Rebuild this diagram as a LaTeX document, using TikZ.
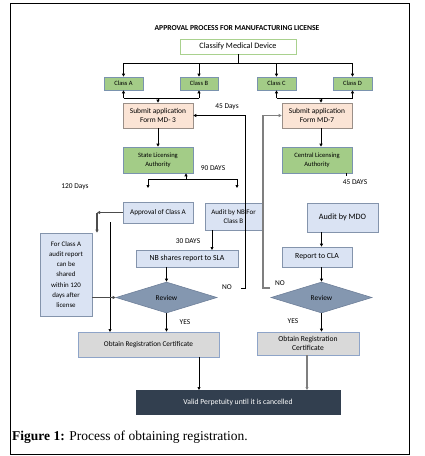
\documentclass[tikz,border=0pt]{standalone}
\usepackage{fontspec}
\setmainfont{Carlito}
\newfontfamily\capfont{Liberation Serif}
\usetikzlibrary{shapes.geometric,arrows.meta}
\definecolor{clsfill}{HTML}{A3CC87}
\definecolor{clsdraw}{HTML}{7A93AE}
\definecolor{subfill}{HTML}{FBE4D5}
\definecolor{subdraw}{HTML}{9A8F88}
\definecolor{bluefill}{HTML}{DAE3F3}
\definecolor{bluedraw}{HTML}{8494AC}
\definecolor{revfill}{HTML}{8497B0}
\definecolor{revdraw}{HTML}{6E7F99}
\definecolor{obtfill}{HTML}{D9D9D9}
\definecolor{obtdraw}{HTML}{8EA4C8}
\definecolor{navy}{HTML}{323F4F}
\definecolor{classifydraw}{HTML}{A9D18E}
\definecolor{conngray}{HTML}{7F7F7F}
\tikzset{
  base/.style={draw, line width=0.6pt, inner sep=1pt, align=center, font=\fontsize{7.6}{9}\selectfont},
  clsbox/.style={base, fill=clsfill, draw=clsdraw, font=\fontsize{6.5}{7}\selectfont},
  authbox/.style={base, fill=clsfill, draw=clsdraw, font=\fontsize{6.6}{8.6}\selectfont},
  subbox/.style={base, fill=subfill, draw=subdraw, font=\fontsize{7.4}{9}\selectfont},
  bluebox/.style={base, fill=bluefill, draw=bluedraw},
  revbox/.style={base, diamond, aspect=3, fill=revfill, draw=revdraw, inner sep=0pt, font=\fontsize{7.4}{8}\selectfont},
  obtbox/.style={base, fill=obtfill, draw=obtdraw},
  validbox/.style={base, fill=navy, draw=navy, text=white},
  lbl/.style={font=\fontsize{7.4}{8}\selectfont, inner sep=0pt},
  conn/.style={line width=0.9pt, -{Triangle[length=3pt,width=3pt]}},
  plain/.style={line width=0.9pt},
  grayconn/.style={line width=1.1pt, draw=conngray, -{Triangle[length=3pt,width=3pt]}},
}
\begin{document}
\begin{tikzpicture}[x=1pt,y=-1pt]
\useasboundingbox (0,0) rectangle (424,456);
\draw[line width=0.8pt] (10,3) rectangle (409,454);
\node[font=\bfseries\fontsize{7.6}{9}\selectfont] (title) at (237,28) {APPROVAL PROCESS FOR MANUFACTURING LICENSE};
% nodes
\node[base, draw=classifydraw, fill=white, minimum width=116pt, minimum height=15pt, font=\fontsize{8.2}{9}\selectfont] (classify) at (238,46.5) {Classify Medical Device};
\node[clsbox, minimum width=39pt, minimum height=13pt] (ca) at (123.5,83.5) {Class A};
\node[clsbox, minimum width=38pt, minimum height=13pt] (cb) at (199,83.5) {Class B};
\node[clsbox, minimum width=39pt, minimum height=13pt] (cc) at (276.5,83.5) {Class C};
\node[clsbox, minimum width=39pt, minimum height=13pt] (cd) at (352.5,83.5) {Class D};
\node[subbox, minimum width=70pt, minimum height=25pt] (sub3) at (158,115.5) {Submit application\\Form MD- 3};
\node[subbox, minimum width=70pt, minimum height=25pt] (sub7) at (317,115.5) {Submit application\\Form MD-7};
\node[authbox, minimum width=70pt, minimum height=26pt] (sla) at (158,160) {State Licensing\\Authority};
\node[authbox, minimum width=70pt, minimum height=26pt] (cla) at (317,160) {Central Licensing\\Authority};
\node[bluebox, minimum width=70pt, minimum height=21pt, font=\fontsize{7.2}{8}\selectfont] (appa) at (158,212.5) {Approval of Class A};
\node[bluebox, minimum width=57pt, minimum height=27pt, font=\fontsize{7}{9}\selectfont] (auditnb) at (233.5,216.5) {Audit by NB For\\Class B};
\node[bluebox, minimum width=102pt, minimum height=17pt, font=\fontsize{7.8}{9}\selectfont] (nbshare) at (187,258.5) {NB shares report to SLA};
\node[bluebox, minimum width=52pt, minimum height=83pt, font=\fontsize{6.9}{10.2}\selectfont] (fora) at (66,274.5) {For Class A\\audit report\\can be\\shared\\within 120\\days after\\license};
\node[revbox, minimum width=101pt, minimum height=31pt] (rev1) at (166.5,297.5) {Review};
\node[obtbox, minimum width=141pt, minimum height=25pt, font=\fontsize{7.3}{8}\selectfont] (obt1) at (148.5,344.5) {Obtain Registration Certificate};
\node[bluebox, minimum width=71pt, minimum height=29pt, font=\fontsize{8.2}{9}\selectfont] (mdo) at (342.5,217.5) {Audit by MDO};
\node[bluebox, minimum width=70pt, minimum height=20pt, font=\fontsize{7.8}{9}\selectfont] (rcla) at (317,257) {Report to CLA};
\node[revbox, minimum width=101pt, minimum height=31pt] (rev2) at (321.5,297.5) {Review};
\node[obtbox, minimum width=102pt, minimum height=23pt, font=\fontsize{7.6}{9.4}\selectfont] (obt2) at (308,343.5) {Obtain Registration\\Certificate};
\node[validbox, minimum width=204pt, minimum height=24pt, font=\fontsize{7.7}{8}\selectfont] (valid) at (238,402) {Valid Perpetuity until it is cancelled};
% labels
\node[lbl] (l45a) at (227,107) {45 Days};
\node[lbl] (l90) at (213,168) {90 DAYS};
\node[lbl] (l120) at (75,187) {120 Days};
\node[lbl] (l45b) at (355,182) {45 DAYS};
\node[lbl] (l30) at (188,241) {30 DAYS};
\node[lbl] (lno1) at (227,287) {NO};
\node[lbl] (lno2) at (280,283) {NO};
\node[lbl] (lyes1) at (185,322) {YES};
\node[lbl] (lyes2) at (293,321) {YES};
% coordinates
\coordinate (top) at (238,63);
\coordinate (jab) at (158,98);
\coordinate (jcd) at (321,98);
% classify fan-out
\draw[plain] (classify.south) -- (top);
\draw[plain] (ca.north |- top) -- (cd.north |- top);
\foreach \c in {ca,cb,cc,cd} \draw[conn] (\c.north |- top) -- (\c.north);
% class to submit
\draw[conn] (ca.south |- jab) -- (ca.south);
\draw[conn] (cb.south |- jab) -- (cb.south);
\draw[plain] (ca.south |- jab) -- (cb.south |- jab);
\draw[conn] (jab) -- (sub3.north);
\draw[conn] (cc.south |- jcd) -- (cc.south);
\draw[conn] (cd.south |- jcd) -- (cd.south);
\draw[plain] (cc.south |- jcd) -- (cd.south |- jcd);
\draw[conn] (jcd) -- (jcd |- sub7.north);
% submit to authority
\draw[conn] (sub3.south) -- (sla.north);
\draw[conn] ([xshift=4pt]sub7.south) -- ([xshift=4pt]cla.north);
% SLA split
\coordinate (sj) at (186,179);
\coordinate (sl) at (148,179);
\coordinate (sr) at (237,179);
\draw[conn] (sj) -- (sj |- sla.south);
\draw[plain] (sl) -- (sr);
\draw[conn] (sl) -- (148,188);
\draw[conn] (sr) -- (237,188);
% CLA small tick
\draw[line width=0.6pt] (346,173) -- (346,176);
% approval of class A to note box
\coordinate (ac) at (97,212.5);
\draw[grayconn, draw=black!70] (appa.west) -- (ac);
\draw[grayconn, draw=black!70] (ac) -- (ac |- fora.north);
\draw[line width=0.7pt, -{Triangle[length=3pt,width=3pt]}] (110,222) -- (110,332);
\draw[grayconn, draw=black!70] (fora.east |- rev1.west) -- (rev1.west);
% audit NB chain
\draw[conn] (212,230) -- (212,250);
\draw[conn] (rev1.north |- nbshare.south) -- (rev1.north);
\draw[conn] (rev1.south) -- (rev1.south |- obt1.north);
% NO loops
\draw[line width=0.9pt, -{Triangle[length=3pt,width=3pt]}] (241,288) -- (245,288) -- (245,115.5) -- (sub3.east);
\draw[grayconn] (270,288) -- (263,288) -- (263,115.5) -- (sub7.west);
% right chain
\draw[conn] (rev2.north |- mdo.south) -- (rev2.north |- rcla.north);
\draw[conn] (rev2.north |- rcla.south) -- (rev2.north);
\draw[conn] (rev2.south) -- (rev2.south |- obt2.north);
% to valid
\draw[line width=0.7pt, -{Triangle[length=3pt,width=3pt]}] (199,357) -- (199,390);
\draw[grayconn] (307,355) -- (307,390);
% caption
\node[anchor=west, inner sep=0pt, font=\capfont\fontsize{13.5}{15}\selectfont] (cap) at (12,437) {\textbf{Figure 1:} Process of obtaining registration.};
\end{tikzpicture}
\end{document}
